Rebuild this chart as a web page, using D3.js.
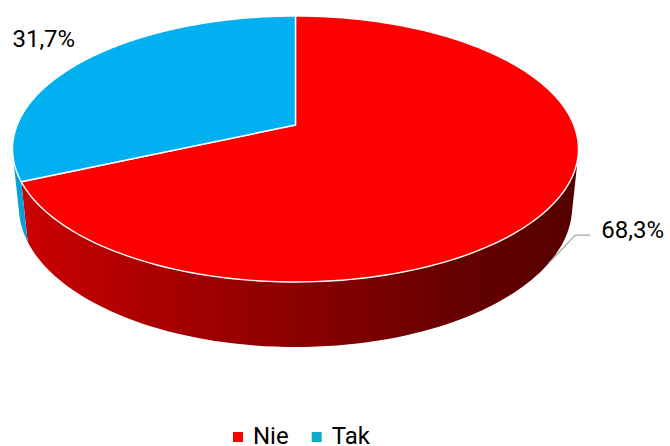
<!DOCTYPE html>
<html>
<head>
<meta charset="utf-8">
<script src="https://cdn.jsdelivr.net/npm/d3@7"></script>
<style>
  body { margin: 0; background: #fff; }
  svg { display: block; font-family: Roboto, "Open Sans", sans-serif; }
</style>
</head>
<body>
<div id="chart"></div>
<script>
  // Data
  var categories = ["Nie", "Tak"];
  var values = [68.3, 31.7];
  var valueLabels = ["68,3%", "31,7%"];

  var width = 670, height = 446;

  // Colours of the top faces and of the side walls
  var topColor = d3.scaleOrdinal().domain(categories).range(["#ff0000", "#00b0f0"]);
  var sideColor = d3.scaleOrdinal().domain(categories).range(["url(#sideRed)", "#0a9fd8"]);
  var legendColor = d3.scaleOrdinal().domain(categories).range(["#ff0000", "#10aacb"]);

  // Perspective camera (distance = 1), fitted to the picture
  var cam = { cx: 295.5, cy: 125, f: 1367, r: 0.2036, h: 0.048, tilt: 27.53 * Math.PI / 180 };
  var sinT = Math.sin(cam.tilt), cosT = Math.cos(cam.tilt);

  // theta: math angle in the pie plane (90deg = far side), y: 0 top, -h bottom, k: radius factor
  function project(theta, y, k) {
    if (k === undefined) k = 1;
    var X = cam.r * k * Math.cos(theta);
    var Z = cam.r * k * Math.sin(theta);
    var yc = y * cosT + Z * sinT;
    var zc = -y * sinT + Z * cosT + 1;
    return [cam.cx + cam.f * X / zc, cam.cy - cam.f * yc / zc];
  }

  // d3.pie angle (clockwise from 12 o'clock) -> theta
  function toTheta(a) { return Math.PI / 2 - a; }

  function arcPoints(t0, t1, y, n) {
    var pts = [];
    for (var i = 0; i <= n; i++) pts.push(project(t0 + (t1 - t0) * i / n, y));
    return pts;
  }

  var pie = d3.pie().sort(null).value(function(d) { return d.value; });
  var slices = pie(categories.map(function(c, i) { return { name: c, value: values[i], label: valueLabels[i] }; }));

  var svg = d3.select("#chart").append("svg")
              .attr("width", width)
              .attr("height", height);

  svg.append("rect").attr("width", width).attr("height", height).attr("fill", "#fff");

  // Shading of the red wall
  var grad = svg.append("defs").append("linearGradient")
                .attr("id", "sideRed")
                .attr("gradientUnits", "userSpaceOnUse")
                .attr("x1", 20).attr("x2", 578).attr("y1", 0).attr("y2", 0);
  grad.append("stop").attr("offset", 0).attr("stop-color", "#cc0000");
  grad.append("stop").attr("offset", 0.25).attr("stop-color", "#a80000");
  grad.append("stop").attr("offset", 0.5).attr("stop-color", "#8a0000");
  grad.append("stop").attr("offset", 0.8).attr("stop-color", "#640000");
  grad.append("stop").attr("offset", 1).attr("stop-color", "#560000");

  // visible part of the side wall (outward normal facing the camera)
  var visLo = Math.PI + Math.asin(cam.r / cosT);
  var visHi = 2 * Math.PI - Math.asin(cam.r / cosT);

  var line = d3.line();

  // Side walls
  slices.forEach(function(d) {
    var lo = toTheta(d.endAngle), hi = toTheta(d.startAngle);
    [-2 * Math.PI, 0, 2 * Math.PI].forEach(function(shift) {
      var a = Math.max(lo + shift, visLo), b = Math.min(hi + shift, visHi);
      if (b <= a) return;
      var pts = arcPoints(a, b, 0, 80).concat(arcPoints(b, a, -cam.h, 80));
      svg.append("path")
         .attr("d", line(pts) + "Z")
         .attr("fill", sideColor(d.data.name));
    });
  });

  // Top faces
  slices.forEach(function(d) {
    var t0 = toTheta(d.startAngle), t1 = toTheta(d.endAngle);
    var pts = [project(0, 0, 0)].concat(arcPoints(t0, t1, 0, 160));
    svg.append("path")
       .attr("d", line(pts) + "Z")
       .attr("fill", topColor(d.data.name))
       .attr("stroke", "#fff")
       .attr("stroke-width", 1.4)
       .attr("stroke-linejoin", "round");
  });

  // Data labels
  slices.forEach(function(d) {
    var mid = toTheta((d.startAngle + d.endAngle) / 2);
    if (d.data.name === "Nie") {
      var p = project(mid, -cam.h);
      svg.append("path")
         .attr("d", line([p, [p[0] + 27, p[1] - 28.5], [p[0] + 42, p[1] - 28.5]]))
         .attr("fill", "none")
         .attr("stroke", "#a6a6a6")
         .attr("stroke-width", 1.3);
      svg.append("text")
         .attr("x", p[0] + 53).attr("y", p[1] - 25.5)
         .attr("font-size", 24)
         .attr("fill", "#000")
         .text(d.data.label);
    } else {
      var q = project(mid, 0, 1.205);
      svg.append("text")
         .attr("x", q[0]).attr("y", q[1] - 2.5)
         .attr("text-anchor", "middle")
         .attr("font-size", 24)
         .attr("fill", "#000")
         .text(d.data.label);
    }
  });

  // Legend
  var legend = svg.append("g").attr("transform", "translate(233,0)");
  var lx = 0;
  categories.forEach(function(c) {
    legend.append("rect")
          .attr("x", lx).attr("y", 432)
          .attr("width", 10).attr("height", 10)
          .attr("fill", legendColor(c));
    var t = legend.append("text")
          .attr("x", lx + 20).attr("y", 444)
          .attr("font-size", 24)
          .attr("fill", "#000")
          .text(c);
    lx += 20 + t.node().getComputedTextLength() + 23;
  });
</script>
</body>
</html>
